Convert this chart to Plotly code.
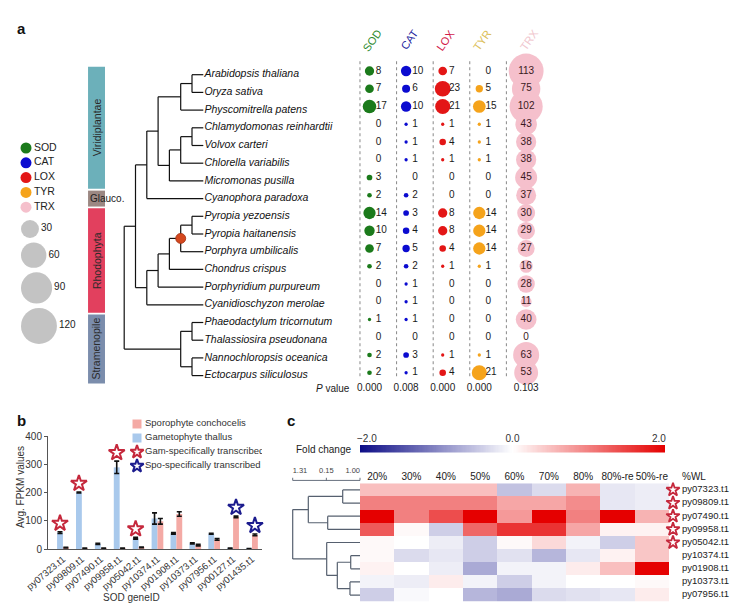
import numpy as np
import plotly.graph_objects as go

W, H = 749, 614
OFF = 8  # page body margin of the browser
FONT = "Liberation Sans, Arial, sans-serif"


def dom_x(a, b):
    return [max(0.0, (a - OFF) / W), min(1.0, (b - OFF) / W)]


def dom_y(top, bottom):
    return [max(0.0, 1 - (bottom - OFF) / H), min(1.0, 1 - (top - OFF) / H)]


def py(p):
    return 1 - (p - OFF) / H


def px(p):
    return (p - OFF) / W

# ---------------- Panel a data ----------------
species = ["Arabidopsis thaliana", "Oryza sativa", "Physcomitrella patens",
           "Chlamydomonas reinhardtii", "Volvox carteri", "Chlorella variabilis",
           "Micromonas pusilla", "Cyanophora paradoxa", "Pyropia yezoensis",
           "Pyropia haitanensis", "Porphyra umbilicalis", "Chondrus crispus",
           "Porphyridium purpureum", "Cyanidioschyzon merolae",
           "Phaeodactylum tricornutum", "Thalassiosira pseudonana",
           "Nannochloropsis oceanica", "Ectocarpus siliculosus"]
genes = ["SOD", "CAT", "LOX", "TYR", "TRX"]
sod = [8, 7, 17, 0, 0, 0, 3, 2, 14, 10, 7, 2, 0, 0, 1, 0, 2, 2]
cat = [10, 6, 10, 1, 1, 1, 0, 2, 3, 4, 5, 2, 1, 1, 1, 0, 3, 1]
lox = [7, 23, 21, 1, 4, 1, 0, 0, 8, 8, 4, 1, 0, 0, 0, 0, 1, 4]
tyr = [0, 5, 15, 1, 1, 1, 0, 0, 14, 14, 14, 1, 0, 0, 0, 0, 1, 21]
trx = [113, 75, 102, 43, 38, 38, 45, 37, 30, 29, 27, 16, 28, 11, 40, 0, 63, 53]
p_values = ["0.000", "0.008", "0.000", "0.000", "0.103"]
gene_colors = ["#1b7a1b", "#0b0bd0", "#e31616", "#f5a31b", "#f5c0cc"]
header_colors = ["#2e8b2e", "#1c1c9c", "#d21a4a", "#dcc05a", "#f0c6ce"]
size_legend = [30, 60, 90, 120]

taxa = ["Viridiplantae", "Glauco.", "Rhodophyta", "Stramenopile"]
taxa_first = [0, 7, 8, 14]
taxa_last = [6, 7, 13, 17]
taxa_colors = ["#6cb0ba", "#9c8883", "#e2405e", "#7b8dac"]

# species tree (leaf = species index)
tree = ((((((0, 1), 2), (((3, 4), 5), 6)), 7),
         (((((8, 9), 10), 11), 12), 13)),
        ((14, 15), (16, 17)))
marked_clade = (8, 9, 10)

# ---------------- Panel b data ----------------
b_genes = ["py07323.t1", "py09809.t1", "py07490.t1", "py09958.t1", "py05042.t1",
           "py10374.t1", "py01908.t1", "py10373.t1", "py07956.t1", "py00127.t1",
           "py01435.t1"]
gam = [58, 200, 18, 289, 38, 108, 55, 20, 54, 2, 1]
gam_err = [3, 2, 2, 22, 3, 20, 3, 2, 2, 1, 1]
spo = [5, 2, 2, 2, 6, 98, 124, 14, 34, 114, 50]
spo_err = [1, 1, 1, 1, 1, 10, 8, 3, 3, 3, 3]
gam_specific = ["py07323.t1", "py09809.t1", "py09958.t1", "py05042.t1"]
spo_specific = ["py00127.t1", "py01435.t1"]
b_legend = ["Sporophyte conchocelis", "Gametophyte thallus",
            "Gam-specifically transcribed", "Spo-specifically transcribed"]
spo_color = "#f4aaa5"
gam_color = "#a9c9ec"
red_star = "#c5283c"
blue_star = "#1c1c8e"

# ---------------- Panel c data ----------------
heat_cols = ["20%", "30%", "40%", "50%", "60%", "70%", "80%", "80%-re", "50%-re"]
heat_genes = ["py07323.t1", "py09809.t1", "py07490.t1", "py09958.t1", "py05042.t1",
              "py10374.t1", "py01908.t1", "py10373.t1", "py07956.t1"]
heat_z = [
    [0.5, 0.5, 0.5, 0.5, -0.5, -0.3, 0.6, -0.2, -0.15],
    [1.0, 1.0, 1.0, 1.0, 0.7, 0.7, 0.9, -0.2, -0.15],
    [2.0, 1.0, 1.4, 2.0, 0.8, 2.0, 1.0, 2.0, 0.6],
    [1.3, 0.05, -0.4, 1.2, 1.6, 1.6, 0.7, 0.1, 0.1],
    [0.05, 0.0, -0.15, -0.4, 0.05, 0.3, -0.1, -0.4, 0.45],
    [0.05, -0.3, -0.2, -0.4, -0.25, -0.6, -0.2, 0.1, 0.45],
    [0.1, 0.0, -0.15, -0.7, -0.1, -0.1, 0.15, 0.5, 2.0],
    [-0.1, -0.15, 0.15, -0.1, -0.4, -0.1, 0.0, 0.0, 0.05],
    [-0.4, -0.05, 0.0, -0.6, -0.7, -0.3, -0.25, -0.2, 0.15],
]
heat_starred = ["py07323.t1", "py09809.t1", "py07490.t1", "py09958.t1", "py05042.t1"]
# dendrogram: (height, left, right); leaves are row indices
dendro = (1.0, (0.768, (0.257, 0, 1), (0.48, 2, 3)),
          (0.495, 4, (0.337, (0.138, 5, 6), (0.149, 7, 8))))
dendro_scale_labels = ["1.31", "0.15", "1.00"]
heat_colorscale = [[0, "#0c0c86"], [0.5, "#ffffff"], [1, "#e50000"]]

fig = go.Figure()

# ============ Panel a : tree ============
tx, ty, tpos = [], [], {}


def build_tree(node):
    if isinstance(node, int):
        return 0, float(node), (node,)
    kids = [build_tree(c) for c in node]
    h = max(k[0] for k in kids) + 1
    kys = [k[1] for k in kids]
    y = float(np.mean(kys))
    tx.extend([-h, -h, None]); ty.extend([min(kys), max(kys), None])
    for kh, kyy, _ in kids:
        tx.extend([-h, -kh, None]); ty.extend([kyy, kyy, None])
    leaves = tuple(sorted(sum((k[2] for k in kids), ())))
    tpos[leaves] = (-h, y)
    return h, y, leaves


build_tree(tree)
fig.add_trace(go.Scatter(x=tx, y=ty, mode="lines", line=dict(color="#111", width=1.2),
                         xaxis="x", yaxis="y", hoverinfo="skip", showlegend=False))
mx, my = tpos[marked_clade]
fig.add_trace(go.Scatter(x=[mx], y=[my], mode="markers",
                         marker=dict(color="#d4481e", size=10, line=dict(color="#a03010", width=0.8)),
                         xaxis="x", yaxis="y", showlegend=False))
fig.add_trace(go.Scatter(x=[0.1] * len(species), y=list(range(len(species))), mode="text",
                         text=["<i>%s</i>" % s for s in species], textposition="middle right",
                         textfont=dict(family=FONT, size=10.5, color="#111"),
                         xaxis="x", yaxis="y", showlegend=False))
starts = [f - 0.45 for f in taxa_first]
lens = [l + 0.45 - (f - 0.45) for f, l in zip(taxa_first, taxa_last)]
fig.add_trace(go.Bar(x=[-9.45] * len(taxa), y=lens, base=starts, width=1.5,
                     marker=dict(color=taxa_colors, line=dict(width=0)),
                     xaxis="x", yaxis="y", showlegend=False))
annotations = []
for t, f, l in zip(taxa, taxa_first, taxa_last):
    if f == l:
        annotations.append(dict(x=-10.2, y=(f + l) / 2, xref="x", yref="y", text=t, showarrow=False,
                                xanchor="left", yanchor="middle", font=dict(family=FONT, size=10, color="#222")))
    else:
        annotations.append(dict(x=-9.45, y=(f + l) / 2, xref="x", yref="y", text=t, showarrow=False,
                                xanchor="center", yanchor="middle", textangle=-90,
                                font=dict(family=FONT, size=10.5, color="#2a2a2a")))

# ============ Panel a : bubble matrix ============
values = [sod, cat, lox, tyr, trx]
K = 3.28  # marker diameter per sqrt(count)
rows = list(range(len(species)))
for gi, (g, vals, col) in enumerate(zip(genes, values, gene_colors)):
    fig.add_trace(go.Scatter(x=[gi - 0.26, gi - 0.26], y=[-0.55, 17.35], mode="lines",
                             line=dict(color="#888", width=1, dash="3px,3px"),
                             xaxis="x2", yaxis="y2", hoverinfo="skip", showlegend=False))
    nz = [r for r in rows if vals[r] > 0]
    cx = gi if g != "TRX" else gi + 0.28
    fig.add_trace(go.Scatter(x=[cx] * len(nz), y=nz, mode="markers",
                             marker=dict(color=col, size=[K * np.sqrt(vals[r]) for r in nz],
                                         line=dict(width=0), opacity=1),
                             xaxis="x2", yaxis="y2", showlegend=False))
    if g != "TRX":
        fig.add_trace(go.Scatter(x=[gi + 0.17] * len(rows), y=rows, mode="text",
                                 text=[str(v) for v in vals], textposition="middle right",
                                 textfont=dict(family=FONT, size=10, color="#1a1a1a"),
                                 xaxis="x2", yaxis="y2", showlegend=False))
    else:
        fig.add_trace(go.Scatter(x=[cx] * len(rows), y=rows, mode="text",
                                 text=[str(v) for v in vals], textposition="middle center",
                                 textfont=dict(family=FONT, size=10, color="#3a1a22"),
                                 xaxis="x2", yaxis="y2", showlegend=False))
    annotations.append(dict(x=cx + 0.08, y=py(40), xref="x2", yref="paper", text=g, showarrow=False,
                            xanchor="center", yanchor="middle", textangle=-55,
                            font=dict(family=FONT, size=11, color=header_colors[gi])))
fig.add_trace(go.Scatter(x=[i if g != "TRX" else i + 0.28 for i, g in enumerate(genes)],
                         y=[17.86] * len(genes), mode="text", text=p_values,
                         textposition="middle center",
                         textfont=dict(family=FONT, size=10, color="#1a1a1a"),
                         xaxis="x2", yaxis="y2", showlegend=False))
annotations.append(dict(x=px(352), y=py(388), xref="paper", yref="paper", text="<i>P</i> value",
                        showarrow=False, xanchor="right", yanchor="middle",
                        font=dict(family=FONT, size=10, color="#1a1a1a")))

# ============ Panel a : legends (pixel-unit axis) ============
leg_y = [148 + 14.8 * i for i in range(len(genes))]
fig.add_trace(go.Scatter(x=[26] * len(genes), y=leg_y, mode="markers+text",
                         marker=dict(color=gene_colors, size=11, line=dict(width=0)),
                         text=genes, textposition="middle right",
                         textfont=dict(family=FONT, size=10.5, color="#222"),
                         xaxis="x3", yaxis="y3", showlegend=False))
diam = [K * np.sqrt(v) for v in size_legend]
cy, ytop = [], 220.0
for d in diam:
    cy.append(ytop + d / 2)
    ytop += d + 4.5
fig.add_trace(go.Scatter(x=[21 + d / 2 for d in diam], y=cy, mode="markers",
                         marker=dict(color="#a9a9a9", size=diam, line=dict(width=0)),
                         xaxis="x3", yaxis="y3", showlegend=False))
fig.add_trace(go.Scatter(x=[21 + d + 2 for d in diam], y=cy, mode="text",
                         text=[str(v) for v in size_legend], textposition="middle right",
                         textfont=dict(family=FONT, size=10, color="#222"),
                         xaxis="x3", yaxis="y3", showlegend=False))

# ============ Panel b ============
bi = list(range(len(b_genes)))
fig.add_trace(go.Bar(x=bi, y=gam, width=0.31, offset=-0.31, marker=dict(color=gam_color, line=dict(width=0)),
                     error_y=dict(type="data", array=gam_err, color="#111", thickness=1.6, width=2.5),
                     xaxis="x4", yaxis="y4", showlegend=False))
fig.add_trace(go.Bar(x=bi, y=spo, width=0.31, offset=0.0, marker=dict(color=spo_color, line=dict(width=0)),
                     error_y=dict(type="data", array=spo_err, color="#111", thickness=1.6, width=2.5),
                     xaxis="x4", yaxis="y4", showlegend=False))
gs = [b_genes.index(g) for g in gam_specific]
ss = [b_genes.index(g) for g in spo_specific]
fig.add_trace(go.Scatter(x=[i - 0.155 for i in gs], y=[gam[i] + gam_err[i] + 30 for i in gs], mode="markers",
                         marker=dict(symbol="star-open", size=12, color=red_star, line=dict(width=2, color=red_star)),
                         xaxis="x4", yaxis="y4", showlegend=False, cliponaxis=False))
fig.add_trace(go.Scatter(x=[i + 0.155 for i in ss], y=[spo[i] + spo_err[i] + 30 for i in ss], mode="markers",
                         marker=dict(symbol="star-open", size=12, color=blue_star, line=dict(width=2, color=blue_star)),
                         xaxis="x4", yaxis="y4", showlegend=False, cliponaxis=False))
lb = list(range(len(b_legend)))
fig.add_trace(go.Scatter(x=[137, 137], y=lb[:2], mode="markers",
                         marker=dict(symbol="square", size=9, color=[spo_color, gam_color], line=dict(width=0)),
                         xaxis="x8", yaxis="y8", showlegend=False))
fig.add_trace(go.Scatter(x=[137, 137], y=lb[2:], mode="markers",
                         marker=dict(symbol="star-open", size=10, color=[red_star, blue_star],
                                     line=dict(width=2, color=[red_star, blue_star])),
                         xaxis="x8", yaxis="y8", showlegend=False))
fig.add_trace(go.Scatter(x=[145] * len(lb), y=lb, mode="text", text=b_legend, textposition="middle right",
                         textfont=dict(family=FONT, size=9.5, color="#333"),
                         xaxis="x8", yaxis="y8", showlegend=False))
annotations.append(dict(x=px(20), y=py(487), xref="paper", yref="paper", text="Avg. FPKM values",
                        textangle=-90, showarrow=False, xanchor="center", yanchor="middle",
                        font=dict(family=FONT, size=10, color="#333")))
annotations.append(dict(x=px(132), y=py(597), xref="paper", yref="paper", text="SOD geneID",
                        showarrow=False, xanchor="center", yanchor="middle",
                        font=dict(family=FONT, size=10, color="#333")))

# ============ Panel c ============
hr = list(range(len(heat_genes)))
fig.add_trace(go.Heatmap(z=heat_z, x=heat_cols, y=hr, zmin=-2, zmax=2, colorscale=heat_colorscale,
                         showscale=False, xgap=0, ygap=0, xaxis="x6", yaxis="y6"))
key = np.linspace(-2, 2, 241)
fig.add_trace(go.Heatmap(z=[key], x=key, y=[0], zmin=-2, zmax=2, colorscale=heat_colorscale,
                         showscale=False, xaxis="x5", yaxis="y5"))
annotations.append(dict(x=px(353), y=py(449), xref="paper", yref="paper", text="Fold change",
                        xanchor="right", yanchor="middle", showarrow=False,
                        font=dict(family=FONT, size=10, color="#222")))
annotations.append(dict(x=px(680), y=py(476), xref="paper", yref="paper", text="%WL",
                        xanchor="left", yanchor="middle", showarrow=False,
                        font=dict(family=FONT, size=10, color="#222")))
st = [heat_genes.index(g) for g in heat_starred]
fig.add_trace(go.Scatter(x=[673] * len(st), y=st, mode="markers",
                         marker=dict(symbol="star-open", size=10, color=red_star, line=dict(width=1.8, color=red_star)),
                         xaxis="x9", yaxis="y6", showlegend=False, cliponaxis=False))
fig.add_trace(go.Scatter(x=[682] * len(hr), y=hr, mode="text", text=heat_genes, textposition="middle right",
                         textfont=dict(family=FONT, size=9.5, color="#222"),
                         xaxis="x9", yaxis="y6", showlegend=False, cliponaxis=False))
dx, dy = [], []


def build_dendro(node):
    if isinstance(node, int):
        return 0.0, float(node)
    h, a, b = node
    kids = [build_dendro(a), build_dendro(b)]
    kys = [k[1] for k in kids]
    dx.extend([-h, -h, None]); dy.extend([min(kys), max(kys), None])
    for kh, kyy in kids:
        dx.extend([-h, -kh, None]); dy.extend([kyy, kyy, None])
    return h, float(np.mean(kys))


build_dendro(dendro)
fig.add_trace(go.Scatter(x=dx, y=dy, mode="lines", line=dict(color="#56606f", width=1.2),
                         xaxis="x7", yaxis="y7", hoverinfo="skip", showlegend=False))
sb_x = [-1.0, -0.5, 0.0]
sx, sy = [-1.0, 0.0, None], [-0.72, -0.72, None]
for v in sb_x:
    sx.extend([v, v, None]); sy.extend([-0.72, -0.92, None])
fig.add_trace(go.Scatter(x=sx, y=sy, mode="lines", line=dict(color="#56606f", width=0.9),
                         xaxis="x7", yaxis="y7", hoverinfo="skip", showlegend=False))
fig.add_trace(go.Scatter(x=sb_x, y=[-1.4] * 3, mode="text", text=dendro_scale_labels,
                         textposition=["middle right", "middle center", "middle left"],
                         textfont=dict(family=FONT, size=7.5, color="#444"),
                         xaxis="x7", yaxis="y7", showlegend=False, cliponaxis=False))

for lab, x, y in [("a", 21, 28), ("b", 21, 420), ("c", 291, 420)]:
    annotations.append(dict(x=px(x), y=py(y), xref="paper", yref="paper", text="<b>%s</b>" % lab,
                            showarrow=False, xanchor="center", yanchor="middle",
                            font=dict(family=FONT, size=15, color="#111")))

hidden = dict(visible=False, fixedrange=True, automargin=False)
shown = dict(fixedrange=True, automargin=False, showgrid=False, zeroline=False)
fig.update_layout(
    template="none",
    width=W, height=H, autosize=False, margin=dict(l=0, r=0, t=0, b=0, pad=0),
    paper_bgcolor="white", plot_bgcolor="rgba(0,0,0,0)", barmode="overlay",
    font=dict(family=FONT, color="#222"), showlegend=False,
    annotations=annotations,
    xaxis=dict(domain=dom_x(80, 355), range=[(80 - 203.3) / 11.3, (355 - 203.3) / 11.3], anchor="y", **hidden),
    yaxis=dict(domain=dom_y(50, 400), range=[(400 - 74.7) / 17.7, (50 - 74.7) / 17.7], anchor="x", **hidden),
    xaxis2=dict(domain=dom_x(350, 560), range=[(350 - 369.5) / 36.6, (560 - 369.5) / 36.6], anchor="y2", **hidden),
    yaxis2=dict(domain=dom_y(50, 400), range=[(400 - 71) / 17.75, (50 - 71) / 17.75], anchor="x2", **hidden),
    xaxis3=dict(domain=dom_x(8, 100), range=[8, 100], anchor="y3", **hidden),
    yaxis3=dict(domain=dom_y(130, 360), range=[360, 130], anchor="x3", **hidden),
    xaxis4=dict(domain=dom_x(48, 262), range=[-0.79, 10.53], anchor="y4", showline=True, linecolor="#555",
                linewidth=1, ticks="", tickvals=bi, ticktext=b_genes, tickangle=-40,
                tickfont=dict(family=FONT, size=9.5, color="#333"), **shown),
    yaxis4=dict(domain=dom_y(436, 549), range=[0, 400], anchor="x4", showline=True, linecolor="#555",
                linewidth=1, ticks="outside", ticklen=3, tickcolor="#555", tickvals=[0, 100, 200, 300, 400],
                tickfont=dict(family=FONT, size=10, color="#333"), **shown),
    xaxis5=dict(domain=dom_x(360, 665), range=[-2, 2], anchor="y5", side="top", showline=False, ticks="",
                tickvals=[-1.91, 0, 1.92], ticktext=["\u22122.0", "0.0", "2.0"], tickangle=0,
                tickfont=dict(family=FONT, size=10, color="#333"), **shown),
    yaxis5=dict(domain=dom_y(445, 452.5), range=[-0.5, 0.5], anchor="x5", **hidden),
    xaxis6=dict(domain=dom_x(360, 669), anchor="y6", side="top", type="category", tickangle=0,
                showline=False, ticks="", tickfont=dict(family=FONT, size=10, color="#222"), **shown),
    yaxis6=dict(domain=dom_y(483.3, 601.7), range=[8.5, -0.5], anchor="x6", **hidden),
    xaxis7=dict(domain=dom_x(285, 362), range=[(285 - 360) / 67.3, (362 - 360) / 67.3], anchor="y7", **hidden),
    yaxis7=dict(domain=dom_y(466, 601.7), range=[8.5, (466 - 483.3) / 13.15 - 0.5], anchor="x7", **hidden),
    xaxis8=dict(domain=dom_x(130, 262), range=[130, 262], anchor="y8", **hidden),
    yaxis8=dict(domain=dom_y(417, 473), range=[3.5, -0.5], anchor="x8", **hidden),
    xaxis9=dict(domain=dom_x(669, 749), range=[669, 749], anchor="y6", **hidden),
)

fig.write_html("out.html")
